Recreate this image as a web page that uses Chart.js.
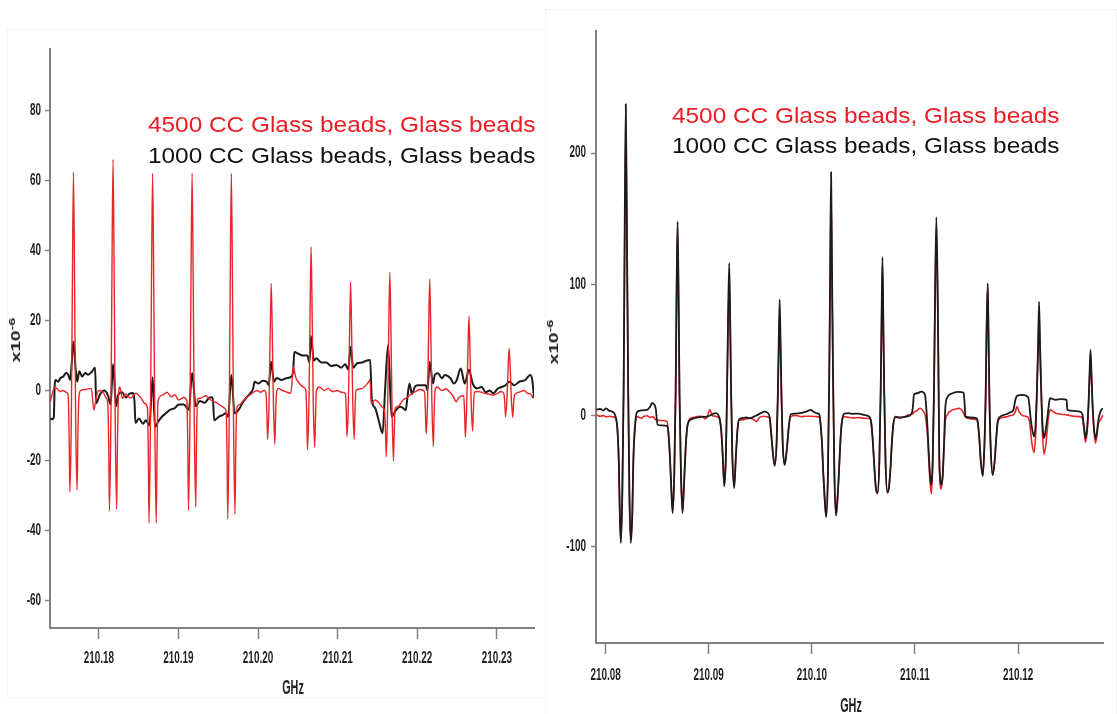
<!DOCTYPE html>
<html>
<head>
<meta charset="utf-8">
<script src="https://cdn.jsdelivr.net/npm/chart.js@4.4.1/dist/chart.umd.min.js"></script>
<style>
  html, body { margin: 0; padding: 0; background: #fff; }
  body { width: 1117px; height: 714px; position: relative; overflow: hidden; font-family: 'Liberation Sans', Arial, sans-serif; }
  .panel { position: absolute; top: 0; height: 714px; }
  #leftPanel { left: 0; width: 545px; }
  #rightPanel { left: 545px; width: 572px; }
  .frame { position: absolute; border: 1px solid #f3f3f3; box-sizing: border-box; }
  .note { position: absolute; font-size: 22px; line-height: 22px; white-space: nowrap; transform: scaleX(1.108); transform-origin: 0 50%; }
  .note.red { color: rgb(237, 28, 36); }
  .note.black { color: #111; }
  .ytitle { position: absolute; font: bold 12px 'Liberation Sans', Arial, sans-serif; color: #222; white-space: nowrap;
            transform: translate(-50%, -50%) rotate(-90deg) scaleX(1.6); }
  .ytitle sup { font-size: 9px; }
  .xtitle { position: absolute; font: bold 12px 'Liberation Sans', Arial, sans-serif; color: #222;
            transform: translate(-50%, -50%) scale(0.9, 1.65); }
</style>
</head>
<body>
<div class="frame" style="left:7px; top:29px; width:539px; height:669px;"></div>
<div class="frame" style="left:545px; top:9px; width:572px; height:706px;"></div>

<div class="panel" id="leftPanel"><canvas id="leftChart"></canvas></div>
<div class="panel" id="rightPanel"><canvas id="rightChart"></canvas></div>

<div class="note red" style="left:148px; top:114px;">4500 CC Glass beads, Glass beads</div>
<div class="note black" style="left:148px; top:145px;">1000 CC Glass beads, Glass beads</div>
<div class="note red" style="left:672px; top:105px;">4500 CC Glass beads, Glass beads</div>
<div class="note black" style="left:672px; top:135px;">1000 CC Glass beads, Glass beads</div>

<div class="ytitle" style="left:15px; top:340px;">x10<sup>-6</sup></div>
<div class="ytitle" style="left:553px; top:342px;">x10<sup>-6</sup></div>
<div class="xtitle" style="left:293px; top:687px;">GHz</div>
<div class="xtitle" style="left:851px; top:705px;">GHz</div>

<script>
// Axis ranges and tick labels
const leftXRange = [210.17387, 210.23467];
const leftYRange = [-67.8, 97.5];
const leftXTicks = [210.18, 210.19, 210.20, 210.21, 210.22, 210.23];
const leftYTicks = [-60, -40, -20, 0, 20, 40, 60, 80];

const rightXRange = [210.07907, 210.12824];
const rightYRange = [-173.3, 293];
const rightXTicks = [210.08, 210.09, 210.10, 210.11, 210.12];
const rightYTicks = [-100, 0, 100, 200];

const seriesNames = ['4500 CC Glass beads, Glass beads', '1000 CC Glass beads, Glass beads'];

// Spectra: [GHz, value x1e-6]
const leftRed = [
  [210.1739,-3.2],[210.17416,-1],[210.17445,1],[210.17478,0.5],[210.17516,-0.3],[210.17548,0],[210.17591,-0.5],[210.17616,-1.5],
  [210.17628,-14],[210.17637,-29],[210.17655,-8],[210.17668,30],[210.17682,62.3],[210.17696,30],[210.17709,-8],[210.17727,-28.4],[210.17737,-13],[210.1775,-2],
  [210.17771,0],[210.17841,0.3],[210.17906,0.6],[210.17938,-5.6],[210.1796,-3],[210.17995,0],[210.18063,-0.8],[210.18092,-2.2],[210.18114,-4],
  [210.18125,-16],[210.18134,-34.4],[210.18152,-8],[210.18165,33],[210.18179,66],[210.18193,33],[210.18206,-8],[210.18224,-33.9],[210.18234,-16],[210.18246,-2],
  [210.18264,1],[210.18296,-2.2],[210.18342,-1],[210.18398,-2.2],[210.18466,-0.8],[210.18532,-2.2],[210.18577,-3.7],[210.18611,-5],
  [210.18622,-18],[210.18631,-37.8],[210.18649,-8],[210.18662,31],[210.18676,62],[210.1869,31],[210.18703,-8],[210.18721,-37.8],[210.18731,-18],[210.18743,-3],
  [210.18801,-1.3],[210.18855,-0.5],[210.18913,-1.8],[210.18955,-1.2],[210.19003,-2.7],[210.19068,-2],[210.19107,-3],
  [210.19118,-16],[210.19127,-34.2],[210.19145,-8],[210.19158,31],[210.19172,62],[210.19186,31],[210.19199,-8],[210.19217,-33.3],[210.19227,-16],[210.19239,-2.5],
  [210.19271,-2.2],[210.19343,-1.5],[210.19406,-2.7],[210.19494,-3.7],[210.19544,-4.5],[210.19584,-5.1],[210.196,-6],
  [210.19611,-18],[210.1962,-36.7],[210.19638,-8],[210.19651,31],[210.19665,62],[210.19679,31],[210.19692,-8],[210.1971,-35.3],[210.1972,-18],[210.19732,-5],
  [210.19763,-4.1],[210.19831,-2.5],[210.19898,-1.3],[210.19944,-0.5],[210.19987,0],[210.20032,-0.5],[210.20077,0],[210.20101,-1],
  [210.20112,-7],[210.20121,-14],[210.20139,-3],[210.20152,15],[210.20166,30.6],[210.2018,15],[210.20193,-3],[210.20211,-15.4],[210.20221,-7],[210.20233,-0.5],
  [210.20256,0.6],[210.20307,0],[210.20345,-0.3],[210.20412,-0.8],[210.20445,6.8],[210.2047,4],[210.2052,2],[210.2057,1],[210.20602,0],
  [210.20613,-8],[210.20622,-17],[210.2064,-3],[210.20653,20],[210.20667,41],[210.20681,20],[210.20694,-3],[210.20712,-16.2],[210.20722,-8],[210.20734,0],
  [210.2077,1],[210.20833,0],[210.20883,0.6],[210.20933,-0.3],[210.20994,0],[210.21045,-0.5],[210.21098,-0.8],
  [210.21109,-6],[210.21118,-13.2],[210.21136,-3],[210.21149,15],[210.21163,31],[210.21177,15],[210.2119,-3],[210.21208,-13.9],[210.21218,-6],[210.2123,0],
  [210.21296,0.5],[210.21375,2],[210.21409,3],[210.21421,-3.7],[210.21471,-2.7],[210.21521,-3.5],[210.21554,-4.6],[210.21591,-6],
  [210.21602,-12],[210.21611,-18.9],[210.21629,-4],[210.21642,17],[210.21656,33.7],[210.2167,17],[210.21683,-4],[210.21701,-20.1],[210.21711,-12],[210.21723,-5],
  [210.21754,-4.6],[210.21822,-2.7],[210.21872,-2],[210.21909,-1.3],[210.21959,-0.5],[210.22001,0],[210.22034,0.3],[210.22092,-0.3],
  [210.22103,-6],[210.22112,-12.4],[210.2213,-3],[210.22143,16],[210.22157,31.8],[210.22171,16],[210.22184,-3],[210.22202,-16],[210.22212,-7],[210.22224,0],
  [210.22247,1],[210.22313,0],[210.2236,0.5],[210.22403,-0.3],[210.22447,-1.5],[210.22492,-3.2],[210.22522,-2],[210.22585,-1.5],
  [210.22596,-7],[210.22605,-13.3],[210.22623,-3],[210.22636,10],[210.2265,21.3],[210.22664,10],[210.22677,-3],[210.22695,-11.6],[210.22705,-6],[210.22717,-0.5],
  [210.2276,-0.3],[210.2281,-0.5],[210.22848,-0.8],[210.22898,-1],[210.2296,-1.3],[210.2301,-0.8],[210.23052,-0.3],[210.2309,-1],
  [210.23101,-4],[210.2311,-7.5],[210.23128,-2],[210.23141,6],[210.23155,12],[210.23169,6],[210.23182,-2],[210.232,-7.7],[210.2321,-4],[210.23222,-1.3],
  [210.23277,-0.5],[210.23343,0],[210.23386,-0.8],[210.23424,-1],[210.23455,-2.2]
];

const leftBlack = [
  [210.1739,-8],[210.17416,-8.2],[210.17435,-7.5],[210.17447,2],[210.1746,3],[210.17491,2.5],[210.17516,3.5],[210.17553,4],
  [210.17591,5],[210.17616,4.5],[210.17641,3],[210.1766,8],[210.17682,14],[210.1771,6],[210.17729,2.5],[210.17754,5.5],
  [210.17791,4],[210.17829,5],[210.17867,4.5],[210.17917,5.5],[210.17954,6.5],[210.17967,-3.6],[210.18017,-1],[210.18067,0],
  [210.18117,-1.5],[210.18148,-4],[210.18179,7.5],[210.18217,-4.5],[210.18242,-1.3],[210.18292,-0.5],[210.18342,-2],[210.1838,-1],
  [210.18425,-0.7],[210.18448,-3],[210.18461,-9.3],[210.18505,-8],[210.18555,-9.5],[210.18592,-8.5],[210.18636,-10],[210.18676,3.8],
  [210.18706,-10.5],[210.18743,-9],[210.18793,-7.5],[210.18843,-6.5],[210.18893,-5.5],[210.18955,-5],[210.19005,-4],[210.19068,-4],
  [210.19131,-5.5],[210.19172,5],[210.19218,-4.5],[210.19268,-3],[210.19331,-3.5],[210.19393,-2],[210.19431,-2],[210.1945,-8.5],
  [210.19506,-7.5],[210.19556,-7],[210.19594,-6.5],[210.19625,-7.5],[210.19665,4.4],[210.19706,-6.5],[210.19756,-5.5],[210.19806,-3.5],
  [210.19856,-2],[210.19906,-0.7],[210.19938,0.5],[210.19957,2.5],[210.20007,2],[210.20057,2.8],[210.20109,2.5],[210.20134,1.5],
  [210.20166,8.2],[210.202,2.5],[210.20232,3.6],[210.20294,3],[210.20357,3.5],[210.2042,4],[210.20443,6],[210.20456,11],
  [210.20507,10.5],[210.20557,10],[210.2062,10],[210.20645,8],[210.20667,15.5],[210.20701,8.5],[210.20732,9.2],[210.20795,8],
  [210.20857,8],[210.2092,7],[210.20983,7.3],[210.21045,6.5],[210.21096,7.5],[210.21133,6],[210.21163,12.5],[210.21196,6.5],
  [210.21246,7.8],[210.21308,8],[210.21358,8.5],[210.21409,8.7],[210.2143,-2.7],[210.21471,-5],[210.21521,-9],[210.21565,-12.2],
  [210.21596,0],[210.21634,13],[210.21678,-7.5],[210.21721,-6],[210.21784,-4.6],[210.21822,-5],[210.21856,-5.6],[210.21872,-3],
  [210.21902,2],[210.21934,-1],[210.21969,1],[210.22009,1.5],[210.22059,1.5],[210.22109,1.5],[210.22128,0],[210.22157,8.2],
  [210.22197,2],[210.22222,4.5],[210.2226,4.9],[210.2231,3.5],[210.22347,4.4],[210.22417,3.5],[210.2246,2],[210.22497,3],
  [210.22547,6.3],[210.22597,2],[210.2265,5.9],[210.22697,2],[210.22754,0.6],[210.2281,1],[210.2286,-0.5],[210.2291,0],
  [210.22955,-0.8],[210.2301,0.5],[210.2306,1],[210.2311,1.5],[210.23155,2.5],[210.23219,1.5],[210.23282,2.5],[210.23357,3],
  [210.2342,4.4],[210.23445,3],[210.23468,-2.2]
];

const rightRed = [
  [210.0791,0.5],[210.07949,-0.5],[210.07978,0],[210.08007,-1],[210.08036,-0.5],[210.08065,-1],[210.08094,-1.5],
  [210.08114,-10],[210.08128,-35],[210.08138,-75],[210.08148,-96],[210.08162,-60],[210.08175,20],[210.08186,140],[210.08196,216.3],[210.08206,140],[210.08219,20],[210.08231,-60],[210.08244,-95],[210.08259,-75],[210.08269,-35],[210.08283,-12],
  [210.08305,-0.8],[210.08346,-2],[210.08372,-0.5],[210.08402,-0.2],[210.08434,-1.5],[210.0846,-0.8],[210.08487,-3.3],[210.0855,-3.8],[210.08596,-4.5],
  [210.08608,-12],[210.08623,-30],[210.08637,-55],[210.0865,-73],[210.08666,-45],[210.08679,15],[210.08688,88],[210.08698,143],[210.08708,88],[210.08717,15],[210.08731,-45],[210.08746,-73],[210.08759,-55],[210.08773,-30],[210.0879,-10],
  [210.08812,-3],[210.08841,-1.5],[210.08887,-0.8],[210.08938,-0.5],[210.08965,-2.5],[210.08984,-1],[210.09012,4.3],[210.09035,0],[210.09064,-0.5],[210.09093,-1.5],
  [210.09108,-3.5],[210.09122,-12],[210.09137,-32],[210.09151,-53],[210.09167,-30],[210.09178,18],[210.09187,62],[210.09199,100.5],[210.09209,62],[210.09217,18],[210.09229,-30],[210.09247,-54],[210.09263,-32],[210.09278,-12],[210.09294,-3.5],
  [210.09326,-3.3],[210.09365,-2.5],[210.09402,-2],[210.09434,-3],[210.09463,-4.6],[210.09492,-1.5],[210.0953,-0.5],[210.09573,-1],[210.09593,-3],
  [210.09602,-10],[210.09615,-22],[210.09627,-32],[210.0964,-38],[210.09659,-20],[210.0967,12],[210.09679,48],[210.09688,76.7],[210.09697,48],[210.09706,12],[210.09717,-20],[210.09736,-37.5],[210.09749,-32],[210.09762,-22],[210.09775,-10],
  [210.09794,-1],[210.0984,0],[210.09901,-0.8],[210.09947,-0.5],[210.09991,-0.5],[210.10044,-0.8],[210.10073,-1.5],
  [210.10083,-5],[210.10098,-20],[210.10112,-45],[210.10126,-65],[210.10139,-77],[210.10156,-45],[210.10169,28],[210.10178,100],[210.10187,167.3],[210.10196,100],[210.10206,28],[210.10219,-45],[210.10235,-76],[210.10248,-65],[210.10262,-45],[210.10277,-20],[210.10291,-5],
  [210.10315,-0.8],[210.10354,-1.3],[210.10401,-1.8],[210.10451,-1.5],[210.10508,-2],[210.10562,-2.3],
  [210.10577,-6],[210.10592,-20],[210.10607,-40],[210.10621,-55],[210.10637,-59.5],[210.10655,-35],[210.10668,18],[210.10676,65],[210.10685,113.5],[210.10694,65],[210.10702,18],[210.10715,-35],[210.10733,-59],[210.10748,-55],[210.10763,-40],[210.10777,-20],[210.10792,-6],
  [210.10812,-1.5],[210.10858,-1.8],[210.10901,-1],[210.10936,0.5],[210.10972,1],[210.1099,2.5],[210.11023,4],[210.11052,5.6],[210.1108,3.5],[210.11097,1],
  [210.11106,-3],[210.11119,-12],[210.11132,-30],[210.11146,-50],[210.1116,-59.7],[210.11172,-38],[210.11185,18],[210.11195,85],[210.11208,141.4],[210.11221,85],[210.1123,18],[210.11237,-38],[210.11256,-55.8],[210.1127,-45],[210.11283,-22],[210.11294,-5],
  [210.1131,0],[210.11365,4.3],[210.114,5],[210.1143,5.6],[210.11465,3],[210.1149,-1.3],[210.11537,-2.5],[210.11597,-3.3],
  [210.1161,-6],[210.11625,-18],[210.11639,-35],[210.11658,-46],[210.11673,-25],[210.11686,15],[210.11694,60],[210.11706,99.5],[210.11714,60],[210.11722,15],[210.11735,-25],[210.11754,-45.5],[210.11773,-35],[210.11788,-18],[210.11802,-6],
  [210.11829,-2],[210.11887,-1],[210.11925,0],[210.11955,0.5],[210.11974,3],[210.1199,6.9],[210.1201,3],[210.12044,0],[210.12098,-1.3],
  [210.1211,-4],[210.12122,-12],[210.12136,-22],[210.12156,-28.2],[210.12172,-12],[210.12185,22],[210.12195,50],[210.12204,78],[210.12213,50],[210.12223,22],[210.12236,-12],[210.12252,-29.4],[210.1227,-22],[210.12284,-10],[210.12297,0],
  [210.1231,4.3],[210.12365,1.8],[210.1242,1],[210.12475,0.5],[210.12537,-0.5],[210.12597,-0.8],[210.12624,-2],
  [210.12634,-7],[210.12645,-15],[210.12655,-20.3],[210.12672,-10],[210.12684,8],[210.12693,27],[210.12703,46],[210.12713,27],[210.12722,8],[210.12735,-10],[210.12751,-21],[210.12766,-14],[210.1278,-6],
  [210.12799,-3.3],[210.12823,0.5]
];

const rightBlack = [
  [210.0791,4.5],[210.07949,5],[210.07978,4],[210.08007,5.5],[210.08036,3.5],[210.08065,3],[210.08094,0],
  [210.08114,-10],[210.08128,-35],[210.08138,-75],[210.08148,-97.2],[210.08162,-60],[210.08175,20],[210.08186,150],[210.08196,237.3],[210.08206,150],[210.08219,20],[210.08231,-60],[210.08244,-97.2],[210.08259,-75],[210.08269,-35],[210.08283,-10],
  [210.08305,2.6],[210.08346,4],[210.08402,4.3],[210.08434,7],[210.0845,9.4],[210.08473,8.5],[210.08487,5],[210.08504,-7],[210.0855,-7.5],[210.08596,-7.8],
  [210.08608,-12],[210.08623,-30],[210.08637,-55],[210.0865,-74.4],[210.08666,-45],[210.08679,15],[210.08688,90],[210.08698,147.8],[210.08708,90],[210.08717,15],[210.08731,-45],[210.08746,-74.4],[210.08759,-55],[210.08773,-30],[210.0879,-10],
  [210.08812,-4],[210.08841,-2.5],[210.08887,-1.5],[210.08938,-1],[210.08984,-0.8],[210.09025,0.5],[210.09064,1.8],[210.09093,0.5],
  [210.09108,-3],[210.09122,-12],[210.09137,-32],[210.09151,-54],[210.09167,-30],[210.09178,20],[210.09187,70],[210.09199,116.3],[210.09209,70],[210.09217,20],[210.09229,-30],[210.09247,-55.3],[210.09263,-32],[210.09278,-12],[210.09294,-3],
  [210.09326,-2],[210.09365,-1.5],[210.09402,-2],[210.09434,-1],[210.09473,0.5],[210.0951,2],[210.09544,3],[210.09573,2],[210.09593,-2],
  [210.09602,-10],[210.09615,-22],[210.09627,-32],[210.0964,-38.3],[210.09659,-20],[210.0967,15],[210.09679,55],[210.09688,88.4],[210.09697,55],[210.09706,15],[210.09717,-20],[210.09736,-37.6],[210.09749,-32],[210.09762,-22],[210.09775,-10],
  [210.09794,1],[210.0984,1.5],[210.09901,2],[210.09947,3],[210.09991,4.3],[210.10015,3],[210.10044,1.8],[210.10073,1],
  [210.10083,-5],[210.10098,-20],[210.10112,-45],[210.10126,-65],[210.10139,-77.4],[210.10156,-45],[210.10169,30],[210.10178,110],[210.10187,185.4],[210.10196,110],[210.10206,30],[210.10219,-45],[210.10235,-76.2],[210.10248,-65],[210.10262,-45],[210.10277,-20],[210.10291,-5],
  [210.10315,1.5],[210.10354,1.8],[210.10401,1.3],[210.10451,1.5],[210.10508,0.5],[210.10562,-1.3],
  [210.10577,-6],[210.10592,-20],[210.10607,-40],[210.10621,-55],[210.10637,-59.1],[210.10655,-35],[210.10668,20],[210.10676,70],[210.10685,120.6],[210.10694,70],[210.10702,20],[210.10715,-35],[210.10733,-58.6],[210.10748,-55],[210.10763,-40],[210.10777,-20],[210.10792,-6],
  [210.10812,-0.8],[210.10858,-1.5],[210.10901,-1],[210.10936,-0.5],[210.10972,2.3],[210.10982,8],[210.1099,15.8],[210.11023,17],[210.11062,18.3],[210.11097,16],
  [210.11106,10],[210.11119,-5],[210.11132,-25],[210.11146,-45],[210.1116,-52.8],[210.11172,-35],[210.11185,20],[210.11195,90],[210.11208,151.1],[210.11221,90],[210.1123,20],[210.11237,-35],[210.11256,-52.8],[210.1127,-45],[210.11283,-20],[210.11294,5],
  [210.1131,13.2],[210.11365,17],[210.11421,18],[210.11472,17.5],[210.11481,10],[210.1149,-0.8],[210.11537,-1.5],[210.11597,-2],
  [210.1161,-5],[210.11625,-18],[210.11639,-35],[210.11658,-45.9],[210.11673,-25],[210.11686,15],[210.11694,60],[210.11706,100.8],[210.11714,60],[210.11722,15],[210.11735,-25],[210.11754,-45.2],[210.11773,-35],[210.11788,-18],[210.11802,-5],
  [210.11829,-0.8],[210.11887,1],[210.11925,2.5],[210.11955,4.3],[210.11974,12],[210.1199,15],[210.12044,15.8],[210.12098,13.9],
  [210.1211,8],[210.12122,-2],[210.12136,-10],[210.12156,-16],[210.12172,-5],[210.12185,25],[210.12195,55],[210.12204,86.8],[210.12213,55],[210.12223,25],[210.12236,-5],[210.12252,-17.2],[210.1227,-10],[210.12284,-2],[210.12297,7],
  [210.1231,13.2],[210.12365,12],[210.1242,12.5],[210.12471,12],[210.12478,4.3],[210.12537,3.5],[210.12597,3],[210.12624,1],
  [210.12634,-5],[210.12645,-12],[210.12655,-17.2],[210.12672,-8],[210.12684,10],[210.12693,30],[210.12703,50],[210.12713,30],[210.12722,10],[210.12735,-8],[210.12751,-18],[210.12766,-12],[210.1278,-3],
  [210.12799,3],[210.12823,5.6]
];

const RED = 'rgb(232, 38, 42)';
const BLACK = '#1b1b1b';
const AXIS = '#808080';
const LABEL_FONT = "bold 11px 'Liberation Sans', Arial, sans-serif";

function toXY(points) {
  return points.map(p => ({ x: p[0], y: p[1] }));
}

// Tick labels in a tall, narrow face, placed from the scales' own tick positions
const tallTickLabels = {
  id: 'tallTickLabels',
  afterDraw(chart, args, opts) {
    const ctx = chart.ctx;
    const xs = chart.scales.x;
    const ys = chart.scales.y;
    ctx.save();
    ctx.fillStyle = '#1e1e1e';
    ctx.font = LABEL_FONT;
    ctx.textBaseline = 'middle';
    ctx.textAlign = 'center';
    xs.ticks.forEach(t => {
      drawTall(ctx, t.value.toFixed(2), xs.getPixelForValue(t.value), opts.xLabelY);
    });
    ctx.textAlign = 'right';
    ys.ticks.forEach(t => {
      drawTall(ctx, String(t.value), opts.yLabelX, ys.getPixelForValue(t.value));
    });
    ctx.restore();
  }
};

function drawTall(ctx, text, x, y) {
  ctx.save();
  ctx.translate(x, y);
  ctx.scale(0.9, 1.42);
  ctx.fillText(text, 0, 0);
  ctx.restore();
}

/**
 * Build one spectrum panel. Plot area is pinned with layout padding and fixed axis sizes.
 */
function buildPanel(canvas, cfg) {
  return new Chart(canvas, {
    type: 'line',
    data: {
      datasets: [
        {
          label: seriesNames[0],
          data: toXY(cfg.red),
          borderColor: RED,
          borderWidth: cfg.redWidth,
          order: cfg.redOnTop ? 0 : 1
        },
        {
          label: seriesNames[1],
          data: toXY(cfg.black),
          borderColor: BLACK,
          borderWidth: cfg.blackWidth,
          order: cfg.redOnTop ? 1 : 0
        }
      ]
    },
    plugins: [tallTickLabels],
    options: {
      responsive: true,
      maintainAspectRatio: false,
      animation: false,
      events: [],
      parsing: false,
      layout: {
        padding: { left: 0, top: cfg.padTop, right: cfg.padRight, bottom: 0 }
      },
      elements: {
        point: { radius: 0 },
        line: { cubicInterpolationMode: 'monotone', borderJoinStyle: 'round', fill: false }
      },
      plugins: {
        legend: { display: false },
        tooltip: { enabled: false },
        tallTickLabels: { xLabelY: cfg.xLabelY, yLabelX: cfg.yLabelX }
      },
      scales: {
        x: {
          type: 'linear',
          min: cfg.xRange[0],
          max: cfg.xRange[1],
          afterBuildTicks: s => { s.ticks = cfg.xTicks.map(v => ({ value: v })); },
          afterFit: s => { s.height = cfg.xHeight; },
          grid: { drawOnChartArea: false, drawTicks: true, tickLength: 11, tickColor: AXIS, tickWidth: 1.5 },
          border: { display: true, color: AXIS, width: 2 },
          ticks: { display: false }
        },
        y: {
          type: 'linear',
          min: cfg.yRange[0],
          max: cfg.yRange[1],
          afterBuildTicks: s => { s.ticks = cfg.yTicks.map(v => ({ value: v })); },
          afterFit: s => { s.width = cfg.yWidth; },
          grid: { drawOnChartArea: false, drawTicks: true, tickLength: 5, tickColor: AXIS, tickWidth: 1.5 },
          border: { display: true, color: AXIS, width: 2 },
          ticks: { display: false }
        }
      }
    }
  });
}

buildPanel(document.getElementById('leftChart'), {
  red: leftRed,
  black: leftBlack,
  redWidth: 1.4,
  blackWidth: 2,
  redOnTop: true,
  xRange: leftXRange,
  yRange: leftYRange,
  xTicks: leftXTicks,
  yTicks: leftYTicks,
  padTop: 49,
  padRight: 11,
  yWidth: 50,
  xHeight: 86,
  xLabelY: 659,
  yLabelX: 41
});

buildPanel(document.getElementById('rightChart'), {
  red: rightRed,
  black: rightBlack,
  redWidth: 1.6,
  blackWidth: 1.8,
  redOnTop: false,
  xRange: rightXRange,
  yRange: rightYRange,
  xTicks: rightXTicks,
  yTicks: rightYTicks,
  padTop: 31,
  padRight: 14,
  yWidth: 51,
  xHeight: 71,
  xLabelY: 676,
  yLabelX: 41
});
</script>
</body>
</html>
